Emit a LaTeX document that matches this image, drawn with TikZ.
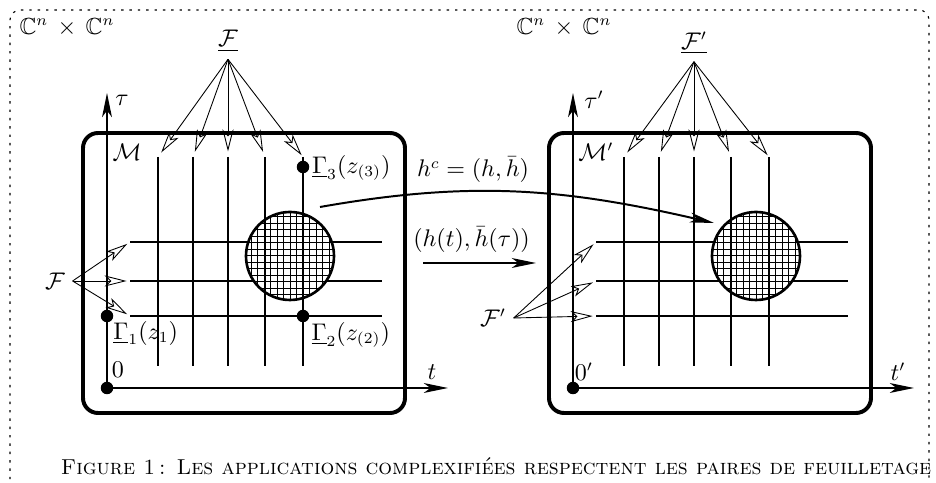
\documentclass[tikz,border=0pt]{standalone}
\usepackage{fontspec}
\usepackage{amsmath}
\usepackage{amssymb}
\usetikzlibrary{arrows.meta,positioning,calc}

\begin{document}
\begin{tikzpicture}[x=1cm,y=1cm,
  every node/.style={font=\fontsize{10.6}{13}\selectfont},
  leaf/.style={line width=1.2pt},
  panel/.style={line width=1.8pt,rounded corners=0.24cm},
  axisline/.style={line width=0.8pt,-{Stealth[length=11pt,width=4.5pt,inset=3pt]}},
  fanarrow/.style={line width=0.4pt,-{Stealth[open,length=10pt,width=5pt,inset=2.5pt]}},
  maparrow/.style={line width=0.9pt,-{Stealth[length=11pt,width=4.5pt,inset=3pt]}},
  spot/.style={circle,fill,inner sep=0pt,minimum size=0.2cm},
  disc/.style={circle,draw,line width=1.2pt,minimum size=1.408cm,inner sep=0pt,fill=white,
    path picture={\draw[line width=0.45pt,step=0.104] (path picture bounding box.south west) grid (path picture bounding box.north east);}}]
\useasboundingbox (0,0) rectangle (14.976,7.728);
\draw[line width=0.5pt,dash pattern=on 1.1pt off 2.7pt,rounded corners=0.16cm] (0.160,-0.500) rectangle (14.864,7.568);
\node (CnL) at (1.072,7.296) {$\mathbb{C}^n\,\times\,\mathbb{C}^n$};
\node (CnR) at (9.024,7.296) {$\mathbb{C}^n\,\times\,\mathbb{C}^n$};
\node[anchor=west,font=\fontsize{9.85}{12}\selectfont] (caption) at (0.850,0.270) {\textsc{Figure 1\,: Les applications complexifiées respectent les paires de feuilletage}};
% left panel
\draw[panel] (1.328,1.120) rectangle (6.480,5.600);
\coordinate (h1L) at (2.080,3.856);
\coordinate (h2L) at (2.080,3.232);
\coordinate (h3L) at (2.080,2.672);
\draw[leaf] (h1L) -- (6.112,3.856);
\draw[leaf] (h2L) -- (6.112,3.232);
\draw[leaf] (h3L) -- (6.112,2.672);
\node[disc] (discL) at (4.640,3.632) {};
\coordinate (v1L) at (2.528,5.216);
\coordinate (v2L) at (3.088,5.216);
\coordinate (v3L) at (3.648,5.216);
\coordinate (v4L) at (4.240,5.216);
\coordinate (v5L) at (4.848,5.216);
\draw[leaf] (v1L) -- (2.528,1.872);
\draw[leaf] (v2L) -- (3.088,1.872);
\draw[leaf] (v3L) -- (3.648,1.872);
\draw[leaf] (v4L) -- (4.240,1.872);
\draw[leaf] (v5L) -- (4.848,1.872);
\coordinate (oL) at (1.712,1.520);
\coordinate (tauTipL) at (1.712,6.240);
\coordinate (tTipL) at (7.168,1.520);
\draw[axisline] (oL) -- (tauTipL);
\draw[axisline] (oL) -- (tTipL);
\node[spot] (originL) at (oL) {};
\node[spot] (g1) at (1.712,2.672) {};
\node[spot] (g2) at (4.848,2.672) {};
\node[spot] (g3) at (4.848,5.056) {};
\node (tauL) at (1.952,6.128) {$\tau$};
\node (tL) at (6.912,1.776) {$t$};
\node (zeroL) at (1.888,1.808) {$0$};
\node (ML) at (2.032,5.296) {$\mathcal{M}$};
\node[anchor=west] (g1lab) at (1.690,2.400) {$\underline{\Gamma}_1(z_1)$};
\node[anchor=west] (g2lab) at (4.860,2.368) {$\underline{\Gamma}_2(z_{(2)})$};
\node[anchor=west] (g3lab) at (4.870,5.040) {$\underline{\Gamma}_3(z_{(3)})$};
\node (FtopL) at (3.648,7.072) {$\underline{\mathcal{F}}$};
\node (FsideL) at (0.880,3.232) {$\mathcal{F}$};
\draw[fanarrow,shorten >=2.5pt] (FtopL.south) -- (v1L);
\draw[fanarrow,shorten >=2.5pt] (FtopL.south) -- (v2L);
\draw[fanarrow,shorten >=2.5pt] (FtopL.south) -- (v3L);
\draw[fanarrow,shorten >=2.5pt] (FtopL.south) -- (v4L);
\draw[fanarrow,shorten >=1pt] (FtopL.south) -- (v5L);
\draw[fanarrow,shorten >=1.5pt] (FsideL.east) -- (h1L);
\draw[fanarrow,shorten >=1.5pt] (FsideL.east) -- (h2L);
\draw[fanarrow,shorten >=1.5pt] (FsideL.east) -- (h3L);
% right panel
\draw[panel] (8.784,1.120) rectangle (13.936,5.600);
\coordinate (h1R) at (9.536,3.856);
\coordinate (h2R) at (9.536,3.232);
\coordinate (h3R) at (9.536,2.672);
\draw[leaf] (h1R) -- (13.568,3.856);
\draw[leaf] (h2R) -- (13.568,3.232);
\draw[leaf] (h3R) -- (13.568,2.672);
\node[disc] (discR) at (12.096,3.632) {};
\coordinate (v1R) at (9.984,5.216);
\coordinate (v2R) at (10.544,5.216);
\coordinate (v3R) at (11.104,5.216);
\coordinate (v4R) at (11.696,5.216);
\coordinate (v5R) at (12.304,5.216);
\draw[leaf] (v1R) -- (9.984,1.872);
\draw[leaf] (v2R) -- (10.544,1.872);
\draw[leaf] (v3R) -- (11.104,1.872);
\draw[leaf] (v4R) -- (11.696,1.872);
\draw[leaf] (v5R) -- (12.304,1.872);
\coordinate (oR) at (9.168,1.520);
\coordinate (tauTipR) at (9.168,6.240);
\coordinate (tTipR) at (14.624,1.520);
\draw[axisline] (oR) -- (tauTipR);
\draw[axisline] (oR) -- (tTipR);
\node[spot] (originR) at (oR) {};
\node (tauR) at (9.504,6.128) {$\tau'$};
\node (tR) at (14.368,1.776) {$t'$};
\node (zeroR) at (9.344,1.776) {$0'$};
\node (MR) at (9.536,5.296) {$\mathcal{M}'$};
\node (FtopR) at (11.104,7.040) {$\underline{\mathcal{F}'}$};
\node (FsideR) at (7.888,2.640) {$\mathcal{F}'$};
\draw[fanarrow,shorten >=2.5pt] (FtopR.south) -- (v1R);
\draw[fanarrow,shorten >=2.5pt] (FtopR.south) -- (v2R);
\draw[fanarrow,shorten >=2.5pt] (FtopR.south) -- (v3R);
\draw[fanarrow,shorten >=2.5pt] (FtopR.south) -- (v4R);
\draw[fanarrow,shorten >=1pt] (FtopR.south) -- (v5R);
\draw[fanarrow,shorten >=1.5pt] (FsideR.east) -- (h1R);
\draw[fanarrow,shorten >=1.5pt] (FsideR.east) -- (h2R);
\draw[fanarrow,shorten >=1.5pt] (FsideR.east) -- (h3R);
% the maps between the two panels
\coordinate (hcFrom) at (5.120,4.416);
\coordinate (hcTo) at (11.424,4.160);
\draw[maparrow] (hcFrom) to[out=10,in=167] (hcTo);
\node (hclab) at (7.568,5.008) {$h^c=(h,\bar{h})$};
\coordinate (pairFrom) at (6.768,3.520);
\coordinate (pairTo) at (8.576,3.520);
\draw[maparrow] (pairFrom) -- (pairTo);
\node (pairlab) at (7.544,3.888) {$(h(t),\bar{h}(\tau))$};
\end{tikzpicture}
\end{document}
